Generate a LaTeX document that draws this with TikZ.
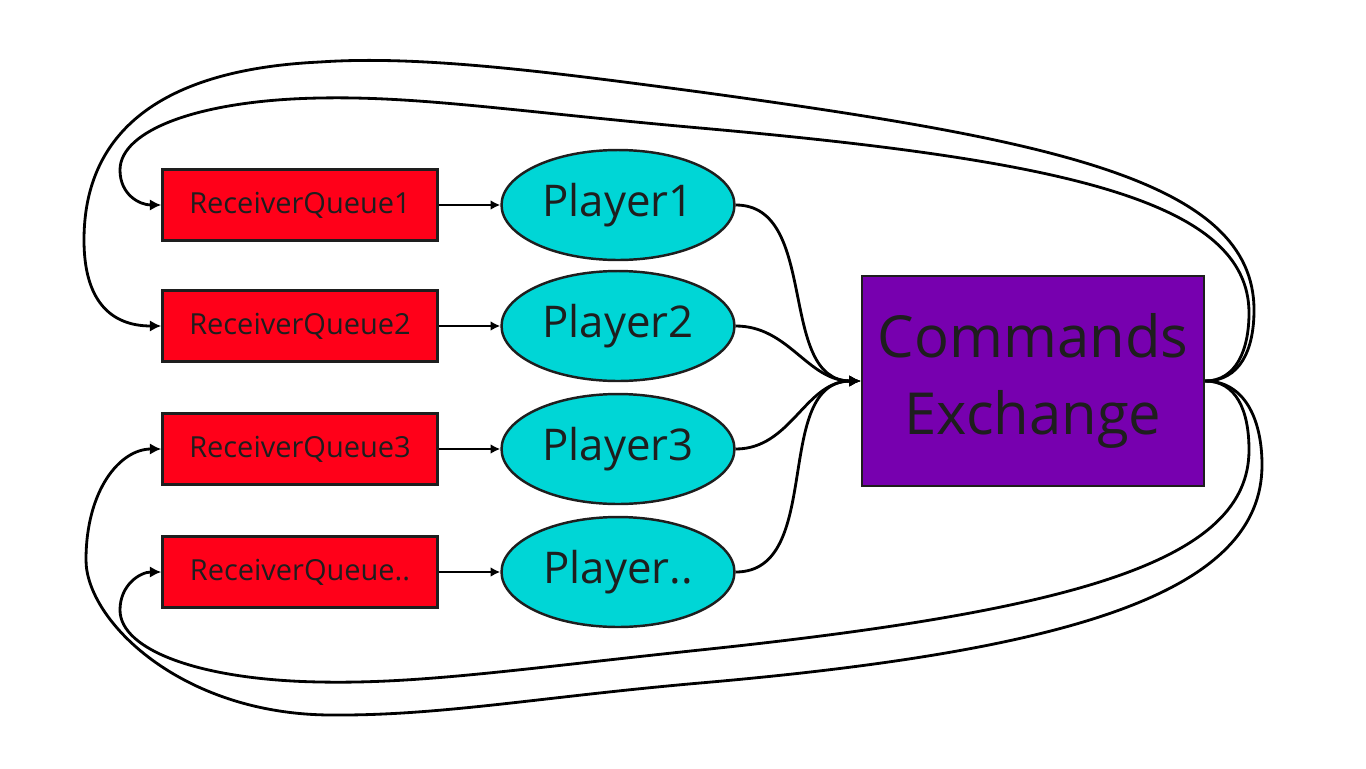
\documentclass[tikz,border=0pt]{standalone}
\usepackage{fontspec}
\setmainfont{Open Sans}
\usetikzlibrary{shapes.geometric,arrows.meta}
\definecolor{queuered}{RGB}{255,0,25}
\definecolor{playercyan}{RGB}{0,214,214}
\definecolor{exchpurple}{RGB}{119,0,175}
\definecolor{ink}{RGB}{30,30,30}
\begin{document}
\begin{tikzpicture}[x=0.02cm,y=-0.02cm,
  queue/.style={draw=ink,line width=1.4pt,fill=queuered,text=ink,minimum width=5.5cm,minimum height=1.42cm,inner sep=0pt,font=\fontsize{16.5}{19}\selectfont},
  player/.style={ellipse,draw=ink,line width=1.4pt,fill=playercyan,text=ink,minimum width=4.66cm,minimum height=2.2cm,inner sep=0pt,font=\fontsize{24.9}{29}\selectfont},
  exchange/.style={draw=ink,line width=1.4pt,fill=exchpurple,text=ink,minimum width=6.84cm,minimum height=4.2cm,align=center,font=\fontsize{33}{44}\selectfont},
  link/.style={line width=1.3pt,-{Latex[length=5.5pt,width=5.5pt]}},
  feed/.style={line width=1.6pt,-{Latex[length=6.5pt,width=6.5pt]}}]
\useasboundingbox (0,0) rectangle (1366,768);
% queues and players
\node[queue] (rq1) at (300,205) {ReceiverQueue1};
\node[queue] (rq2) at (300,326) {ReceiverQueue2};
\node[queue] (rq3) at (300,449) {ReceiverQueue3};
\node[queue] (rqx) at (300,572) {ReceiverQueue..};
\node[player] (pl1) at (618,205) {Player1};
\node[player] (pl2) at (618,326) {Player2};
\node[player] (pl3) at (618,449) {Player3};
\node[player] (plx) at (618,572) {Player..};
\node[exchange] (ce) at (1033,381) {Commands\\Exchange};
\foreach \n in {1,2,3,x}{
  \draw[link] (rq\n.east) -- (pl\n.west);
  \draw[feed] (pl\n.east) to[out=0,in=180] (ce.west);
}
% back to the queues
\draw[feed] (ce.east) .. controls (1240,381) and (1254,350) .. (1254,310)
  .. controls (1254,180) and (1050,140) .. (700,92)
  .. controls (550,72) and (420,55) .. (320,62)
  .. controls (150,70) and (84,140) .. (84,240)
  .. controls (84,300) and (110,326) .. (rq2.west);
\draw[feed] (ce.east) .. controls (1236,381) and (1249,350) .. (1249,313)
  .. controls (1249,200) and (1060,160) .. (700,128)
  .. controls (520,112) and (420,96) .. (320,98)
  .. controls (200,100) and (120,130) .. (120,170)
  .. controls (120,195) and (140,205) .. (rq1.west);
\draw[feed] (ce.east) .. controls (1236,381) and (1249,410) .. (1249,450)
  .. controls (1249,560) and (1080,610) .. (700,650)
  .. controls (520,669) and (420,684) .. (320,682)
  .. controls (200,680) and (120,650) .. (120,610)
  .. controls (120,585) and (140,572) .. (rqx.west);
\draw[feed] (ce.east) .. controls (1245,381) and (1262,420) .. (1262,465)
  .. controls (1262,590) and (1080,650) .. (700,683)
  .. controls (540,697) and (440,716) .. (330,715)
  .. controls (180,714) and (86,620) .. (86,560)
  .. controls (86,490) and (120,449) .. (rq3.west);
\end{tikzpicture}
\end{document}
